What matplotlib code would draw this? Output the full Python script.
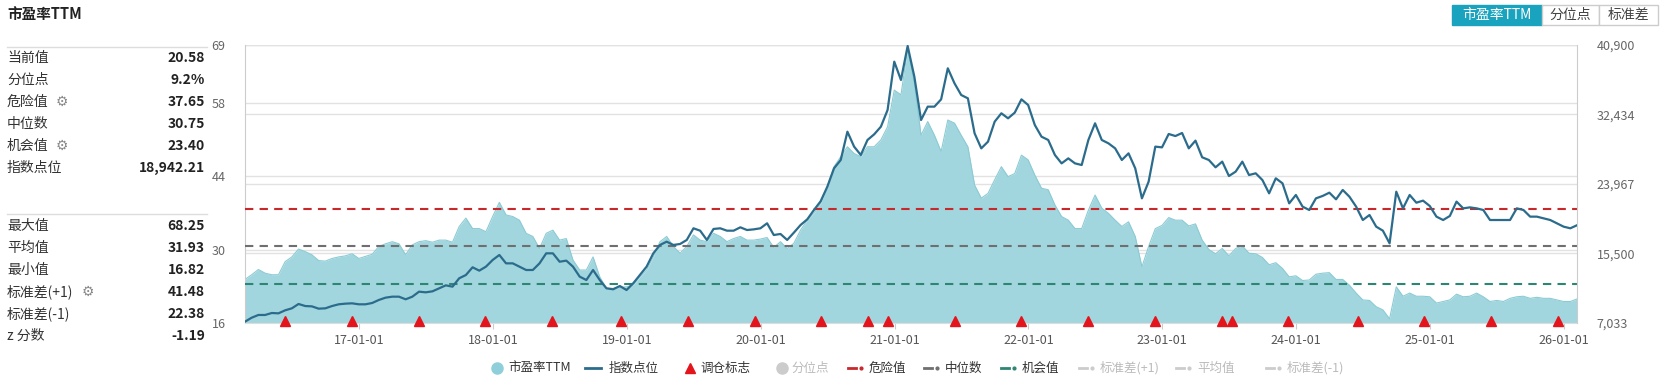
import matplotlib

matplotlib.use("Agg")
import matplotlib.pyplot as plt
import matplotlib.dates as mdates
import matplotlib.transforms as mtransforms
from matplotlib.lines import Line2D
from matplotlib.patches import Rectangle
import pandas as pd

plt.rcParams["font.family"] = ["Noto Sans CJK SC", "DejaVu Sans"]

W, H = 1663, 380

# ---- données ----
START, END = "2016-02-24", "2026-02-06"

pe_ttm = [
    24.3, 25.2, 26.2, 25.5, 25.2, 25.2, 27.7, 28.6, 30.1, 29.6, 29.0, 27.9, 27.8, 28.3, 28.6, 28.8, 29.2,
    28.3, 28.7, 29.1, 30.6, 31.1, 31.5, 31.1, 29.0, 30.9, 31.5, 31.7, 31.4, 31.8, 31.8, 31.4, 34.4,
    36.0, 34.0, 34.0, 33.4, 36.3, 39.0, 36.6, 36.3, 35.6, 33.1, 32.5, 30.2, 33.1, 33.7, 31.8, 32.1, 28.0,
    26.1, 26.1, 28.6, 24.8, 22.6, 22.6, 22.8, 22.9, 23.2, 24.8, 26.1, 28.6, 31.5, 32.5, 30.6, 29.3,
    30.6, 32.8, 31.8, 31.5, 33.1, 32.5, 31.5, 32.1, 32.5, 31.8, 31.8, 32.0, 32.3, 30.4, 31.5, 30.2, 31.2,
    33.7, 35.6, 36.9, 38.8, 42.0, 45.8, 47.7, 49.6, 48.3, 47.7, 49.6, 49.6, 50.9, 53.4, 60.4, 59.5,
    68.2, 61.7, 51.8, 54.4, 51.8, 48.7, 54.7, 54.1, 51.8, 49.6, 42.3, 39.8, 40.7, 43.3, 45.8, 43.9, 44.5,
    48.0, 47.1, 44.2, 41.7, 41.4, 38.5, 36.3, 35.6, 34.0, 34.0, 37.5, 40.4, 37.9, 36.9, 35.6, 34.4,
    35.3, 32.5, 26.7, 30.6, 34.0, 34.6, 36.1, 35.6, 35.6, 34.5, 34.9, 31.8, 30.0, 29.2, 30.2, 28.8, 30.2,
    30.7, 29.3, 29.2, 28.5, 27.1, 27.5, 26.4, 24.8, 25.0, 24.1, 24.2, 25.3, 25.5, 25.6, 24.3, 24.3,
    23.2, 21.7, 20.4, 20.3, 19.1, 18.5, 16.8, 22.9, 21.1, 21.7, 21.1, 21.1, 21.0, 19.8, 20.1, 20.4, 21.5,
    21.0, 21.1, 21.7, 21.0, 20.1, 20.3, 20.1, 20.7, 21.0, 21.1, 20.7, 20.9, 20.7, 20.7, 20.4, 20.1, 20.1,
    20.58,
]

index_pts = [
    7200, 7680, 8010, 8010, 8250, 8210, 8580, 8820, 9350, 9100, 9060, 8780, 8820, 9100, 9310, 9390, 9430,
    9310, 9310, 9470, 9840, 10120, 10240, 10240, 9920, 10240, 10850, 10770, 10890, 11260, 11620, 11460, 12480,
    12880, 13820, 13410, 13900, 14710, 15320, 14300, 14300, 13900, 13490, 13490, 14300, 15520, 15520, 14500,
    14630, 13900, 12680, 12270, 13490, 12270, 11260, 11140, 11540, 11050, 11870, 12880, 13900, 15520, 16540,
    16940, 16540, 16660,
    17150, 18570, 18280, 17150, 18490, 18570, 18280, 18280, 18690, 18360, 18440, 18570, 19180, 17750, 17880,
    17150, 18040, 18970, 19660, 20800, 21860, 23640, 25880, 26890, 30340, 28520, 27500, 29330, 30020, 30950,
    32980, 38870, 36640,
    40780, 37040, 31760, 33390, 33390, 34280, 38060, 36230, 34810, 34400, 30140, 28310, 29120, 31560, 32580,
    31970, 32660, 34280, 33590, 31150, 29730, 29330, 27500, 26480, 27090, 26480, 26280, 29330, 31360, 29330,
    28920, 28310, 26890,
    27700, 25880, 22220, 24250, 28520, 28430, 30060, 29810, 30180, 28310, 29250, 27220, 26890, 26000, 26690,
    24940, 25470, 26690, 25060, 25270, 24450, 22830, 24660, 24050, 21610, 22630, 21210, 20800, 22220, 22510,
    22910, 22100, 23240,
    22420, 21210, 19580, 20190, 18770, 18280, 16740, 23030, 21000, 22630, 21690, 21940, 21290, 19990, 19580,
    20070, 21820, 21000, 21120, 21000, 20800, 19580, 19580, 19580, 19580, 21000, 20800, 19990, 19990, 19780,
    19580, 19180, 18770, 18570, 18942,
]

rebalance_dates = [
    "2016-06-13", "2016-12-12", "2017-06-12", "2017-12-11", "2018-06-11", "2018-12-17",
    "2019-06-17", "2019-12-16", "2020-06-15", "2020-10-19", "2020-12-14", "2021-06-15",
    "2021-12-13", "2022-06-13", "2022-12-12", "2023-06-12", "2023-07-10", "2023-12-11",
    "2024-06-17", "2024-12-16", "2025-06-16", "2025-12-15",
]

DANGER, MEDIAN, CHANCE = 37.65, 30.75, 23.40
left_ticks = [16, 30, 44, 58, 69]
right_ticks = [7033, 15500, 23967, 32434, 40900]
year_ticks = [f"{y}-01-01" for y in range(2017, 2027)]

labels_top = ["当前值", "分位点", "危险值", "中位数", "机会值", "指数点位"]
values_top = ["20.58", "9.2%", "37.65", "30.75", "23.40", "18,942.21"]
labels_bot = ["最大值", "平均值", "最小值", "标准差(+1)", "标准差(-1)", "z 分数"]
values_bot = ["68.25", "31.93", "16.82", "41.48", "22.38", "-1.19"]
gear_rows = {"危险值": 62, "机会值": 62, "标准差(+1)": 88}

FILL = "#a2d6de"
FILL_EDGE = "#8ccbd4"
LINE = "#2b6c8c"
RED = "#c8282a"
GREY = "#6f6f6f"
GREEN = "#2f8574"
GRID = "#e2e2e2"
TRI = "#e3141c"


def fx(px):
    return px / W


def fy(py):
    return 1 - py / H


dates = pd.date_range(START, END, periods=len(pe_ttm))

fig = plt.figure(figsize=(W / 100, H / 100), dpi=100)
ax = fig.add_axes([fx(245), fy(323), fx(1577) - fx(245), fy(45) - fy(323)])
ax2 = ax.twinx()

# zone PE + lignes de référence
ax.fill_between(dates, pe_ttm, 16, color=FILL, lw=0, zorder=1)
ax.plot(dates, pe_ttm, color=FILL_EDGE, lw=0.8, zorder=1.5)
ax.axhline(DANGER, color=RED, lw=1.5, dashes=(4, 3), zorder=3)
ax.axhline(MEDIAN, color=GREY, lw=1.5, dashes=(4, 3), zorder=3)
ax.axhline(CHANCE, color=GREEN, lw=1.5, dashes=(4, 3), zorder=3)

ax.set_ylim(16, 69)
ax.set_xlim(dates[0], dates[-1])
ax.set_yticks(left_ticks)
ax.yaxis.grid(True, color=GRID, lw=1)
ax.set_axisbelow(True)

# grille de l'axe droit, dessinée sous la zone
trans_r = mtransforms.blended_transform_factory(ax.transAxes, ax2.transData)
for v in right_ticks:
    ax.add_line(Line2D([0, 1], [v, v], transform=trans_r, color=GRID, lw=1, zorder=0.5))

# indice
ax2.plot(dates, index_pts, color=LINE, lw=1.6, zorder=3)
ax2.set_ylim(7033, 40900)
ax2.set_yticks(right_ticks)
ax2.set_yticklabels([f"{v:,}" for v in right_ticks])

trans_t = mtransforms.blended_transform_factory(ax2.transData, ax2.transAxes)
ax2.plot(pd.to_datetime(rebalance_dates), [0.008] * len(rebalance_dates), "^", color=TRI,
         ms=7, transform=trans_t, clip_on=False, zorder=4)

ax.set_xticks(pd.to_datetime(year_ticks))
ax.xaxis.set_major_formatter(mdates.DateFormatter("%y-%m-%d"))
ax.tick_params(axis="x", labelsize=9, colors="#555555", length=4, color="#cccccc", pad=4)
ax.tick_params(axis="y", labelsize=9, colors="#666666", length=0, pad=14)
ax2.tick_params(axis="y", labelsize=9, colors="#666666", length=0, pad=14)

for s in ["top", "right"]:
    ax.spines[s].set_visible(False)
ax.spines["left"].set_color("#cccccc")
ax.spines["bottom"].set_color("#dddddd")
for s in ["top", "left", "bottom"]:
    ax2.spines[s].set_visible(False)
ax2.spines["right"].set_color("#cccccc")

# ---- panneau de gauche ----
fig.text(fx(7), fy(14), "市盈率TTM", fontsize=10.5, fontweight="bold", color="#222222", va="center")
for yy in (47, 214):
    fig.add_artist(Line2D([fx(7), fx(207)], [fy(yy), fy(yy)], transform=fig.transFigure,
                          color="#dddddd", lw=1))


def stat_rows(labels, values, y0):
    for i, (lab, val) in enumerate(zip(labels, values)):
        yy = y0 + i * 22
        fig.text(fx(7), fy(yy), lab, fontsize=10, color="#333333", va="center")
        fig.text(fx(205), fy(yy), val, fontsize=10, fontweight="bold", color="#222222",
                 va="center", ha="right")
        if lab in gear_rows:
            fig.text(fx(gear_rows[lab]), fy(yy), "⚙", fontsize=10, color="#888888",
                     va="center", ha="center", family="DejaVu Sans")


stat_rows(labels_top, values_top, 58)
stat_rows(labels_bot, values_bot, 226)

# ---- boutons en haut à droite ----
buttons = [("市盈率TTM", 1452, 1542, True), ("分位点", 1542, 1599, False), ("标准差", 1599, 1658, False)]
for lab, x0, x1, active in buttons:
    fig.add_artist(Rectangle((fx(x0), fy(25)), fx(x1) - fx(x0), fy(5) - fy(25),
                             transform=fig.transFigure,
                             facecolor="#1aa3bf" if active else "white",
                             edgecolor="#1aa3bf" if active else "#cccccc", lw=1))
    fig.text(fx((x0 + x1) / 2), fy(15), lab, fontsize=10, ha="center", va="center",
             color="white" if active else "#444444")

# ---- légende ----
LY = 368


def leg_text(x, s, faded=False):
    fig.text(fx(x), fy(LY), s, fontsize=9, va="center", color="#bbbbbb" if faded else "#333333")


def leg_dashdot(x, color):
    fig.add_artist(Line2D([fx(x), fx(x + 8)], [fy(LY), fy(LY)], transform=fig.transFigure,
                          color=color, lw=2))
    fig.add_artist(Line2D([fx(x + 13)], [fy(LY)], transform=fig.transFigure, marker="o",
                          ms=2, color=color, lw=0))


fig.add_artist(Line2D([fx(497)], [fy(LY)], transform=fig.transFigure, marker="o", ms=8,
                      color="#8fcfd9", lw=0))
leg_text(508, "市盈率TTM")
fig.add_artist(Line2D([fx(585), fx(601)], [fy(LY), fy(LY)], transform=fig.transFigure,
                      color=LINE, lw=2))
leg_text(609, "指数点位")
fig.add_artist(Line2D([fx(690)], [fy(LY)], transform=fig.transFigure, marker="^", ms=7,
                      color=TRI, lw=0))
leg_text(700, "调仓标志")
fig.add_artist(Line2D([fx(782)], [fy(LY)], transform=fig.transFigure, marker="o", ms=8,
                      color="#cccccc", lw=0))
leg_text(791, "分位点", faded=True)
leg_dashdot(848, RED)
leg_text(869, "危险值")
leg_dashdot(924, GREY)
leg_text(945, "中位数")
leg_dashdot(1001, GREEN)
leg_text(1022, "机会值")
leg_dashdot(1079, "#cccccc")
leg_text(1100, "标准差(+1)", faded=True)
leg_dashdot(1176, "#cccccc")
leg_text(1197, "平均值", faded=True)
leg_dashdot(1266, "#cccccc")
leg_text(1287, "标准差(-1)", faded=True)

fig.savefig("out.png", dpi=100, facecolor="white")
